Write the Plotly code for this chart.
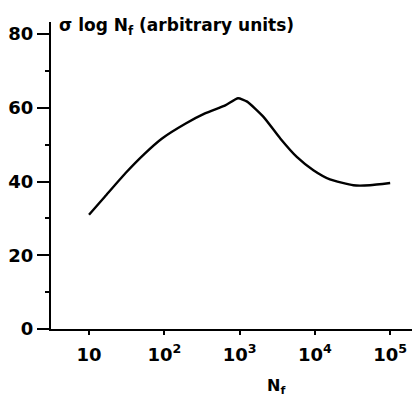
import plotly.graph_objects as go

# Data
n_cycles = [10, 16.2, 30.2, 55, 93.3, 190, 347, 646, 955, 1260, 2090, 3470, 5750, 9550, 15850, 32400, 53700, 100000]
sigma_log = [31.0, 35.9, 42.2, 47.6, 51.7, 55.7, 58.5, 60.7, 62.6, 61.7, 57.5, 51.7, 46.7, 43.1, 40.6, 39.0, 39.0, 39.6]

x_tickvals = [10, 100, 1000, 10000, 100000]
x_ticktext = ["10", "10<sup>2</sup>", "10<sup>3</sup>", "10<sup>4</sup>", "10<sup>5</sup>"]
y_tickvals = [0, 20, 40, 60, 80]

FONT = "DejaVu Sans"

fig = go.Figure()
fig.add_trace(go.Scatter(
    x=n_cycles, y=sigma_log, mode="lines",
    line=dict(color="black", width=2.4, shape="spline", smoothing=0.5),
    showlegend=False, hoverinfo="skip",
))

fig.update_layout(
    width=414, height=403,
    margin=dict(l=51, r=2, t=22, b=74),
    paper_bgcolor="white", plot_bgcolor="white",
    font=dict(family=FONT, color="black", size=15),
)

fig.update_xaxes(
    type="log", range=[0.495, 5.29],
    tickvals=x_tickvals, ticktext=x_ticktext,
    ticks="outside", ticklen=4, tickwidth=1.5, tickcolor="black",
    ticklabelstandoff=4,
    showline=True, linecolor="black", linewidth=2,
    showgrid=False, zeroline=False,
    tickfont=dict(family=FONT, size=18, color="black", weight="bold"),
)
fig.update_yaxes(
    range=[0, 83.3],
    tickvals=y_tickvals,
    ticks="outside", ticklen=12, tickwidth=1.5, tickcolor="black",
    minor=dict(dtick=10, tick0=0, ticks="outside", ticklen=4, tickwidth=1.5, tickcolor="black"),
    showline=True, linecolor="black", linewidth=2,
    showgrid=False, zeroline=False,
    tickfont=dict(family=FONT, size=18, color="black", weight="bold"),
)

fig.add_annotation(
    xref="paper", yref="paper", x=(57 - 51) / 361, y=1 + (22 - 26) / 307,
    xanchor="left", yanchor="middle", showarrow=False,
    text="σ log N<sub>f</sub> (arbitrary units)",
    font=dict(family=FONT, size=17, color="black", weight="bold"),
)
fig.add_annotation(
    xref="paper", yref="paper", x=(276 - 51) / 361, y=-(386 - 329) / 307,
    xanchor="center", yanchor="middle", showarrow=False,
    text="N<sub>f</sub>",
    font=dict(family=FONT, size=16, color="black", weight="bold"),
)

fig.write_html("out.html")
